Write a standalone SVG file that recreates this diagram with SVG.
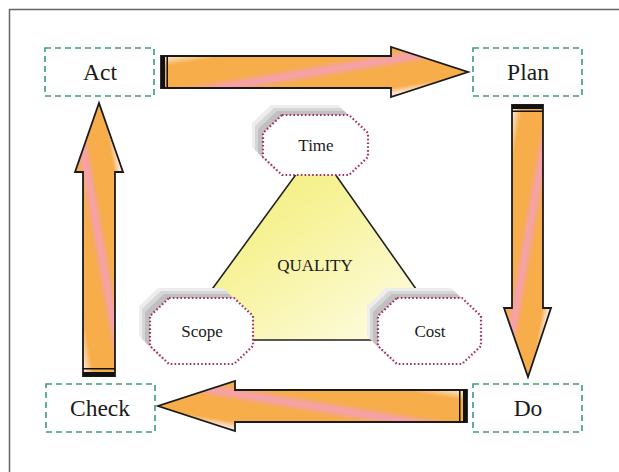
<svg xmlns="http://www.w3.org/2000/svg" width="619" height="472" viewBox="0 0 619 472">
<style>
.box{fill:#fff;stroke:#3f9a7c;stroke-width:1.6;stroke-dasharray:6 4}
.lbl{font-family:"Liberation Serif","Times New Roman",serif;fill:#1a1a1a;text-anchor:middle}
.big{font-size:23.5px}
.sm{font-size:17px}
.oct{fill:#fff;stroke:#a33068;stroke-width:2.2;stroke-dasharray:1.6 2.2}
.arr{stroke:#1a1a1a;stroke-width:1.8;stroke-linejoin:miter}
.bar{fill:#111}
</style>
<defs>
<linearGradient id="gTop" x1="0" y1="0" x2="1" y2="1">
<stop offset="0" stop-color="#c0105a"/><stop offset="0.04" stop-color="#d8407a"/><stop offset="0.09" stop-color="#fdf0e8"/><stop offset="0.2" stop-color="#f6ad4a"/><stop offset="0.42" stop-color="#f6ad4a"/><stop offset="0.5" stop-color="#f6a0b4"/><stop offset="0.58" stop-color="#f6ad4a"/><stop offset="0.78" stop-color="#f6ad4a"/><stop offset="0.85" stop-color="#fde8e0"/><stop offset="0.9" stop-color="#c0105a"/><stop offset="1" stop-color="#c0105a"/>
</linearGradient>
<linearGradient id="gDown" href="#gTop" x1="0" y1="0" x2="1" y2="1"/>
<linearGradient id="gUp" href="#gTop" x1="0" y1="1" x2="1" y2="0"/>
<linearGradient id="gLeft" href="#gTop" x1="1" y1="0" x2="0" y2="1"/>
<linearGradient id="gTri" x1="0" y1="0" x2="1" y2="1">
<stop offset="0" stop-color="#f0ea66"/><stop offset="0.45" stop-color="#f7f39c"/><stop offset="1" stop-color="#fffef2"/>
</linearGradient>
<path id="octTime" d="M282,115 L349,115 L368,133 L368,157 L349,175 L282,175 L263,157 L263,133 Z"/>
<path id="octScope" d="M169,298 L234,298 L253,316 L253,346 L234,364 L169,364 L150,346 L150,316 Z"/>
<path id="octCost" d="M397,298 L462,298 L481,316 L481,346 L462,364 L397,364 L378,346 L378,316 Z"/>
</defs>
<rect width="619" height="472" fill="#fff"/>
<path d="M9.5,472 L9.5,9.5 L619,9.5" fill="none" stroke="#666" stroke-width="1.5"/>

<g id="connectors">
<g id="arrow-act-plan">
<path class="arr" fill="url(#gTop)" d="M161,56 L391,56 L391,47 L468,72 L391,97 L391,88 L161,88 Z"/>
<rect class="bar" x="161" y="56" width="4" height="32"/><rect class="bar" x="166.5" y="56" width="1.5" height="32"/>
</g>
<g id="arrow-plan-do">
<path class="arr" fill="url(#gDown)" d="M512,105 L543,105 L543,308 L551,308 L528,377 L504,308 L512,308 Z"/>
<rect class="bar" x="512" y="105" width="31" height="4"/><rect class="bar" x="512" y="110.5" width="31" height="1.5"/>
</g>
<g id="arrow-do-check">
<path class="arr" fill="url(#gLeft)" d="M467,390 L235,390 L235,381 L158,406 L235,431 L235,422 L467,422 Z"/>
<rect class="bar" x="463" y="390" width="4" height="32"/><rect class="bar" x="459" y="390" width="1.5" height="32"/>
</g>
<g id="arrow-check-act">
<path class="arr" fill="url(#gUp)" d="M83,376 L115,376 L115,172 L123,172 L99,103 L75,172 L83,172 Z"/>
<rect class="bar" x="83" y="372" width="32" height="4"/><rect class="bar" x="83" y="368" width="32" height="1.5"/>
</g>
</g>

<g id="quality">
<path d="M316,147 L452,340 L175,340 Z" fill="url(#gTri)" stroke="#222" stroke-width="1.6"/>
<text class="lbl sm" x="315" y="271">QUALITY</text>
</g>

<g id="time">
<use href="#octTime" transform="translate(-11,-10)" fill="#ededed"/>
<use href="#octTime" transform="translate(-8,-7)" fill="#d6d6d6"/>
<use href="#octTime" transform="translate(-5,-4)" fill="#c0c0c0"/>
<use href="#octTime" class="oct"/>
<text class="lbl sm" x="316" y="151">Time</text>
</g>
<g id="scope">
<use href="#octScope" transform="translate(-11,-10)" fill="#ededed"/>
<use href="#octScope" transform="translate(-8,-7)" fill="#d6d6d6"/>
<use href="#octScope" transform="translate(-5,-4)" fill="#c0c0c0"/>
<use href="#octScope" class="oct"/>
<text class="lbl sm" x="202" y="337">Scope</text>
</g>
<g id="cost">
<use href="#octCost" transform="translate(-11,-10)" fill="#ededed"/>
<use href="#octCost" transform="translate(-8,-7)" fill="#d6d6d6"/>
<use href="#octCost" transform="translate(-5,-4)" fill="#c0c0c0"/>
<use href="#octCost" class="oct"/>
<text class="lbl sm" x="430" y="337">Cost</text>
</g>

<g id="act"><rect class="box" x="45" y="48" width="109" height="48"/><text class="lbl big" x="100" y="80">Act</text></g>
<g id="plan"><rect class="box" x="473" y="48" width="109" height="48"/><text class="lbl big" x="528" y="80">Plan</text></g>
<g id="check"><rect class="box" x="46" y="384" width="109" height="48"/><text class="lbl big" x="100" y="416">Check</text></g>
<g id="do"><rect class="box" x="473" y="384" width="109" height="48"/><text class="lbl big" x="528" y="416">Do</text></g>
</svg>
